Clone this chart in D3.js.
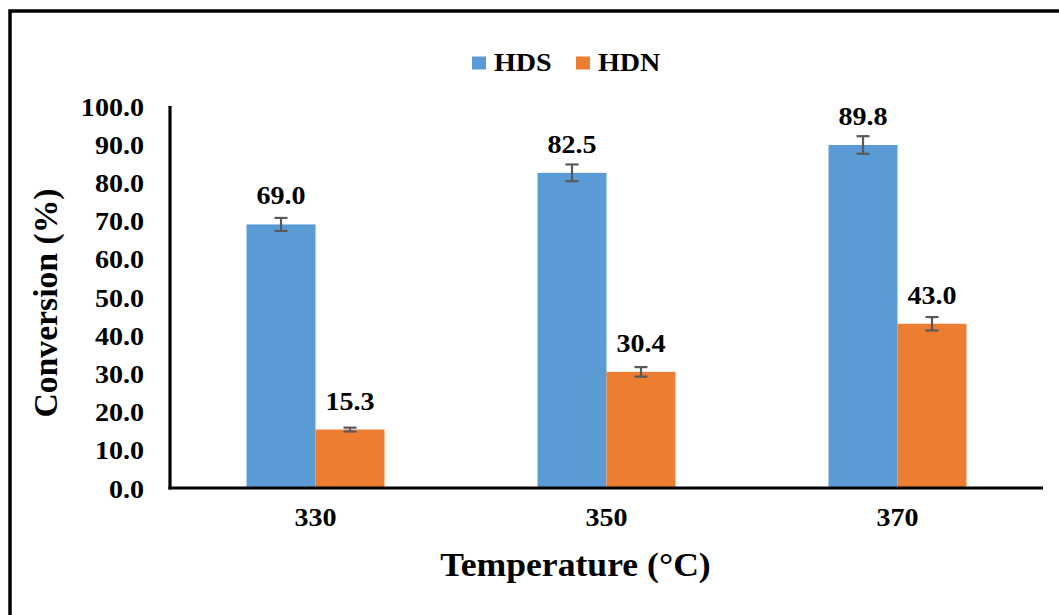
<!DOCTYPE html>
<html>
<head>
<meta charset="utf-8">
<script src="https://cdn.jsdelivr.net/npm/d3@7"></script>
<style>
  html, body { margin: 0; padding: 0; background: #fff; }
  svg { display: block; }
  text { font-family: "Liberation Serif", "Times New Roman", serif; font-weight: bold; fill: #000; }
</style>
</head>
<body>
<svg id="chart" width="1059" height="615"></svg>
<script>
// Conversion by reaction temperature
const temperatures = ["330", "350", "370"];
const seriesNames = ["HDS", "HDN"];
const hdsValues = [69.0, 82.5, 89.8];
const hdnValues = [15.3, 30.4, 43.0];
const hdsErrors = [1.7, 2.2, 2.3];
const hdnErrors = [0.5, 1.25, 1.75];
const yTicks = [0, 10, 20, 30, 40, 50, 60, 70, 80, 90, 100];
const seriesColors = ["#5B9BD5", "#ED7D31"];

// slightly wide lettering
const SX = 1.08;

const svg = d3.select("#chart");

// outer frame
svg.append("rect")
  .attr("x", 10).attr("y", 11)
  .attr("width", 1100).attr("height", 700)
  .attr("fill", "none").attr("stroke", "#000").attr("stroke-width", 3.5);

const plot = { left: 170, right: 1043, top: 106, bottom: 488 };

const y = d3.scaleLinear().domain([0, 100]).range([plot.bottom, plot.top]);
const x0 = d3.scaleBand().domain(temperatures).range([plot.left, plot.right]).padding(0);
const bw = x0.bandwidth();
const x1 = d3.scaleBand().domain(seriesNames).range([bw * 0.263, bw * 0.737]).padding(0);

const rows = temperatures.map((t, i) => ({
  t,
  items: [
    { s: "HDS", v: hdsValues[i], e: hdsErrors[i], c: seriesColors[0] },
    { s: "HDN", v: hdnValues[i], e: hdnErrors[i], c: seriesColors[1] }
  ]
}));

const groups = svg.selectAll("g.grp").data(rows).join("g")
  .attr("class", "grp")
  .attr("transform", d => `translate(${x0(d.t)},0)`);

groups.selectAll("rect.bar").data(d => d.items).join("rect")
  .attr("class", "bar")
  .attr("x", d => x1(d.s))
  .attr("width", x1.bandwidth())
  .attr("y", d => y(d.v))
  .attr("height", d => y(0) - y(d.v))
  .attr("fill", d => d.c);

// error bars
const err = groups.selectAll("g.err").data(d => d.items).join("g")
  .attr("class", "err")
  .attr("transform", d => `translate(${x1(d.s) + x1.bandwidth() / 2},0)`)
  .attr("stroke", "#595959").attr("stroke-width", 2.2);
err.append("line").attr("x1", 0).attr("x2", 0)
  .attr("y1", d => y(d.v + d.e)).attr("y2", d => y(d.v - d.e));
err.append("line").attr("x1", -6.5).attr("x2", 6.5)
  .attr("y1", d => y(d.v + d.e)).attr("y2", d => y(d.v + d.e));
err.append("line").attr("x1", -6.5).attr("x2", 6.5)
  .attr("y1", d => y(d.v - d.e)).attr("y2", d => y(d.v - d.e));

// value labels
groups.selectAll("text.val").data(d => d.items).join("text")
  .attr("class", "val")
  .attr("transform", d => `translate(${x1(d.s) + x1.bandwidth() / 2},${y(d.v) - 20}) scale(${SX},1)`)
  .attr("text-anchor", "middle")
  .attr("font-size", 26)
  .text(d => d.v.toFixed(1));

// y axis
const yAxis = d3.axisLeft(y).tickValues(yTicks).tickFormat(d => d.toFixed(1)).tickSize(0).tickPadding(26);
const gy = svg.append("g").attr("transform", `translate(${plot.left},0)`).call(yAxis);
gy.select(".domain").remove();
gy.selectAll("text")
  .attr("font-size", 26).attr("font-family", "Liberation Serif").attr("font-weight", "bold").attr("fill", "#000")
  .attr("x", -26 / SX).attr("dy", "0.35em")
  .attr("transform", `scale(${SX},1)`);
svg.append("line").attr("x1", plot.left).attr("x2", plot.left)
  .attr("y1", plot.top).attr("y2", plot.bottom + 1.5)
  .attr("stroke", "#000").attr("stroke-width", 3.2);

// x axis
const xAxis = d3.axisBottom(x0).tickSize(0).tickPadding(20);
const gx = svg.append("g").attr("transform", `translate(0,${plot.bottom})`).call(xAxis);
gx.select(".domain").remove();
gx.selectAll("text")
  .attr("font-size", 26).attr("font-family", "Liberation Serif").attr("font-weight", "bold").attr("fill", "#000")
  .attr("transform", `scale(${SX},1)`);
svg.append("line").attr("x1", plot.left - 1.5).attr("x2", plot.right)
  .attr("y1", plot.bottom).attr("y2", plot.bottom)
  .attr("stroke", "#000").attr("stroke-width", 3.2);

// axis titles
svg.append("text")
  .attr("transform", `translate(${(plot.left + plot.right) / 2 - 31},576) scale(${SX},1)`)
  .attr("text-anchor", "middle")
  .attr("font-size", 33)
  .text("Temperature (°C)");

svg.append("text")
  .attr("transform", `translate(57,${(plot.top + plot.bottom) / 2 + 6}) rotate(-90) scale(1.02,1)`)
  .attr("text-anchor", "middle")
  .attr("font-size", 33)
  .text("Conversion (%)");

// legend
const legend = svg.append("g");
const legendX = [472, 576];
seriesNames.forEach((s, i) => {
  legend.append("rect")
    .attr("x", legendX[i]).attr("y", 56.5)
    .attr("width", 14).attr("height", 13)
    .attr("fill", seriesColors[i]);
  legend.append("text")
    .attr("transform", `translate(${legendX[i] + 22},71) scale(${SX},1)`)
    .attr("font-size", 26)
    .text(s);
});
</script>
</body>
</html>
